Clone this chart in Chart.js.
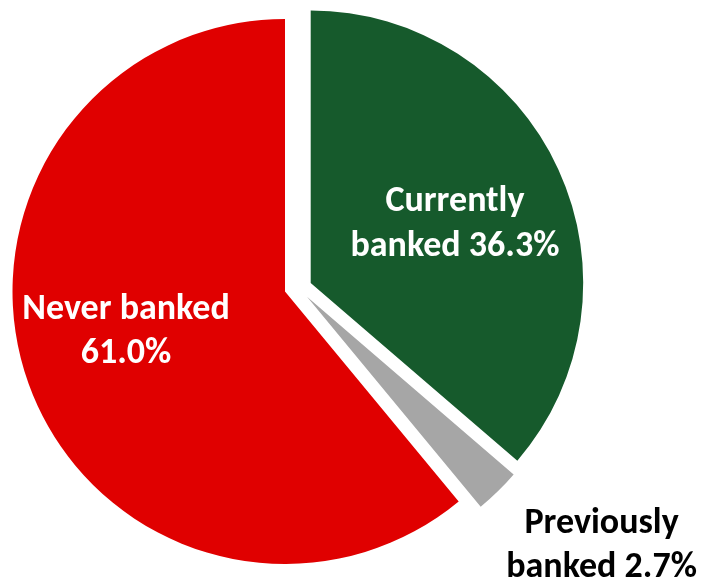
<!DOCTYPE html>
<html>
<head>
<meta charset="utf-8">
<script src="https://cdn.jsdelivr.net/npm/chart.js@4/dist/chart.umd.min.js"></script>
<style>
  html, body { margin: 0; padding: 0; background: #fff; }
  #wrap { width: 701px; height: 580px; }
</style>
</head>
<body>
<div id="wrap"><canvas id="myChart" width="701" height="580"></canvas></div>
<script>
// banking status shares, in percent
const categories = ["Currently banked", "Previously banked", "Never banked"];
const shares = [36.3, 2.7, 61.0];
// how many words of each name go on the first label line
const firstLineWords = [1, 1, 2];

const sliceColours = ['#165A2C', '#A6A6A6', '#E00000'];
const labelColours = ['#FFFFFF', '#000000', '#FFFFFF'];
// pulled-out slices: shift of each slice centre in px
const explode = [[25.7, -8.4], [22, 5.3], [0, 0]];
// label placement: distance as share of radius, turn from the slice middle (deg)
const labelRadius = [0.575, 1.41, 0.6];
const labelTurn = [1.7, -5.6, 6.3];

const labelFont = 'bold 36px Carlito, Calibri, Lato, "Open Sans", sans-serif';
const lineHeight = 44.5;

const explodePlugin = {
  id: 'explodeSlices',
  afterDatasetUpdate(chart, args) {
    args.meta.data.forEach((arc, i) => {
      arc.x += explode[i][0];
      arc.y += explode[i][1];
    });
  }
};

const sliceLabels = {
  id: 'sliceLabels',
  afterDatasetsDraw(chart) {
    const ctx = chart.ctx;
    const arcs = chart.getDatasetMeta(0).data;
    ctx.save();
    ctx.font = labelFont;
    ctx.textAlign = 'center';
    ctx.textBaseline = 'alphabetic';
    arcs.forEach((arc, i) => {
      const mid = (arc.startAngle + arc.endAngle) / 2 + labelTurn[i] * Math.PI / 180;
      const r = arc.outerRadius * labelRadius[i];
      const cx = arc.x + Math.cos(mid) * r;
      const cy = arc.y + Math.sin(mid) * r;
      const words = categories[i].split(' ');
      const line1 = words.slice(0, firstLineWords[i]).join(' ');
      const rest = words.slice(firstLineWords[i]).join(' ');
      const line2 = (rest ? rest + ' ' : '') + shares[i].toFixed(1) + '%';
      ctx.fillStyle = labelColours[i];
      ctx.fillText(line1, cx, cy - 10.75);
      ctx.fillText(line2, cx, cy - 10.75 + lineHeight);
    });
    ctx.restore();
  }
};

const ctx = document.getElementById('myChart');
new Chart(ctx, {
  type: 'pie',
  data: {
    labels: categories,
    datasets: [{
      data: shares,
      backgroundColor: sliceColours,
      borderWidth: 0
    }]
  },
  options: {
    responsive: false,
    animation: false,
    events: [],
    radius: 272.5,
    layout: { padding: { left: 0, right: 131, top: 3, bottom: 0 } },
    plugins: {
      legend: { display: false },
      tooltip: { enabled: false }
    }
  },
  plugins: [explodePlugin, sliceLabels]
});
</script>
</body>
</html>
